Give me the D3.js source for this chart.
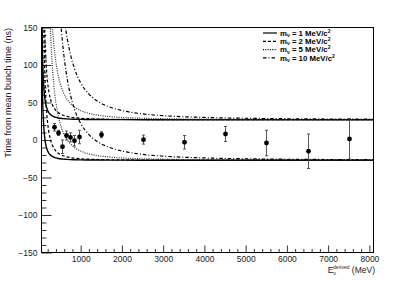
<!DOCTYPE html>
<html><head><meta charset="utf-8">
<script src="https://cdn.jsdelivr.net/npm/d3@7"></script>
<style>
body{margin:0;background:#fff}
svg{display:block;font-family:"Liberation Sans",Arial,sans-serif}
</style>
</head><body><script>
// measured points (bin centre, offset from bunch centre, error)
const energy = [350, 450, 550, 650, 750, 850, 950, 1500, 2500, 3500, 4500, 5500, 6500, 7500];
const timeOffset = [17, 9.5, -9, 6, 3.5, -1, 4, 7, 0.5, -3, 8, -4, -15, 1.5];
const timeError = [5, 3.5, 9, 6, 6, 7, 9, 4, 6, 9, 10, 17, 23, 27];

// expected arrival band for each mass: +/- window, shifted by the delay read at each energy
const massLabels = ["1", "2", "5", "10"];
const windowHalf = 27;
const curveEnergy = [50, 60, 70, 80, 90, 100, 115, 130, 150, 175, 200, 230, 260, 300, 350, 400, 450, 500, 575, 650, 750, 850, 1000, 1200, 1400, 1700, 2000, 2500, 3000, 4000, 5000, 6500, 8100];
const delayM1 = [196.8, 136.7, 100.4, 76.9, 60.7, 49.2, 37.2, 29.1, 21.9, 16.1, 12.3, 9.3, 7.3, 5.5, 4.0, 3.1, 2.4, 2.0, 1.5, 1.2, 0.9, 0.7, 0.5, 0.34, 0.25, 0.17, 0.12, 0.08, 0.05, 0.03, 0.02, 0.01, 0.01];
const delayM2 = [787, 547, 402, 307.5, 243, 196.8, 148.8, 116.4, 87.5, 64.3, 49.2, 37.2, 29.1, 21.9, 16.1, 12.3, 9.7, 7.9, 5.95, 4.66, 3.5, 2.72, 1.97, 1.37, 1.0, 0.68, 0.49, 0.31, 0.22, 0.12, 0.08, 0.05, 0.03];
const delayM5 = [4920, 3417, 2510, 1922, 1519, 1230, 930, 728, 546.7, 401.6, 307.5, 232.5, 182, 136.7, 100.4, 76.9, 60.7, 49.2, 37.2, 29.1, 21.9, 17.0, 12.3, 8.54, 6.28, 4.26, 3.08, 1.97, 1.37, 0.77, 0.49, 0.29, 0.19];
const delayM10 = [19680, 13667, 10041, 7688, 6074, 4920, 3720, 2911, 2187, 1607, 1230, 930, 728, 546.7, 401.6, 307.5, 243, 196.8, 148.8, 116.4, 87.5, 68.1, 49.2, 34.2, 25.1, 17.0, 12.3, 7.87, 5.47, 3.08, 1.97, 1.16, 0.75];
const delays = [delayM1, delayM2, delayM5, delayM10];
const dashes = [null, "3,2", "1,1.3", "3.5,2,1,2"];

const xMajor = [1000, 2000, 3000, 4000, 5000, 6000, 7000, 8000];
const yMajor = [-150, -100, -50, 0, 50, 100, 150];

const W = 415, H = 281;
const svg = d3.select("body").append("svg").attr("width", W).attr("height", H);

const x = d3.scaleLinear().domain([50, 8100]).range([41.5, 373.5]);
const y = d3.scaleLinear().domain([-150, 150]).range([252.5, 27.5]);

svg.append("clipPath").attr("id", "plot")
  .append("rect").attr("x", 41.5).attr("y", 27.5).attr("width", 332).attr("height", 225);

// axes, ticks pointing into the frame
const xMinor = d3.range(200, 8001, 200).filter(v => v % 1000 !== 0);
svg.append("g").attr("transform", "translate(0,252.5)")
  .call(d3.axisBottom(x).tickValues(xMinor).tickSize(-3.5).tickFormat(""))
  .call(g => g.select(".domain").remove());
svg.append("g").attr("transform", "translate(0,252.5)")
  .call(d3.axisBottom(x).tickValues(xMajor).tickSize(-7).tickPadding(3).tickFormat(d3.format("d")))
  .call(g => g.select(".domain").remove())
  .call(g => g.selectAll("text").attr("font-size", 8.5).attr("dy", "0.9em").attr("y", 2).attr("fill", "#222"));

const yMinor = d3.range(-140, 150, 10).filter(v => v % 50 !== 0);
svg.append("g").attr("transform", "translate(41.5,0)")
  .call(d3.axisLeft(y).tickValues(yMinor).tickSize(-5).tickFormat(""))
  .call(g => g.select(".domain").remove());
svg.append("g").attr("transform", "translate(41.5,0)")
  .call(d3.axisLeft(y).tickValues(yMajor).tickSize(-10).tickPadding(4).tickFormat(d3.format("d")))
  .call(g => g.select(".domain").remove())
  .call(g => g.selectAll("text").attr("font-size", 8.5).attr("fill", "#222"));

svg.selectAll(".tick line").attr("stroke", "#333");

// expected-time bands
const line = d3.line().x(d => x(d[0])).y(d => y(d[1])).curve(d3.curveMonotoneX);
const curves = svg.append("g").attr("clip-path", "url(#plot)");
delays.forEach((dl, i) => {
  [windowHalf, -windowHalf].forEach(off => {
    curves.append("path")
      .attr("d", line(curveEnergy.map((e, j) => [e, off + dl[j]])))
      .attr("fill", "none").attr("stroke", i === 2 ? "#333" : "#000")
      .attr("stroke-width", i === 0 ? 1.4 : 1.2)
      .attr("stroke-dasharray", dashes[i]);
  });
});

// data points with error bars
const pts = energy.map((e, i) => ({e, t: timeOffset[i], err: timeError[i]}));
const pg = svg.append("g").attr("clip-path", "url(#plot)");
pg.selectAll("line.err").data(pts).join("line").attr("class", "err")
  .attr("x1", d => Math.round(x(d.e)) + 0.5).attr("x2", d => Math.round(x(d.e)) + 0.5)
  .attr("y1", d => y(d.t - d.err)).attr("y2", d => y(d.t + d.err))
  .attr("stroke", "#444").attr("stroke-width", 0.9);
[-1, 1].forEach(s => {
  pg.selectAll("line.cap" + (s > 0 ? "u" : "d")).data(pts).join("line").attr("class", "cap" + (s > 0 ? "u" : "d"))
    .attr("x1", d => Math.round(x(d.e)) - 1).attr("x2", d => Math.round(x(d.e)) + 2)
    .attr("y1", d => y(d.t + s * d.err)).attr("y2", d => y(d.t + s * d.err))
    .attr("stroke", "#444").attr("stroke-width", 0.9);
});
pg.selectAll("circle").data(pts).join("circle")
  .attr("cx", d => Math.round(x(d.e)) + 0.5).attr("cy", d => y(d.t)).attr("r", 2.4).attr("fill", "#000");

// frame
svg.append("rect").attr("x", 41.5).attr("y", 27.5).attr("width", 332).attr("height", 225)
  .attr("fill", "none").attr("stroke", "#000").attr("stroke-width", 1);

// legend
const lg = svg.append("g").attr("font-size", 7.8).attr("font-weight", "bold");
massLabels.forEach((m, i) => {
  const ly = 33 + i * 8.3;
  lg.append("line").attr("x1", 263).attr("x2", 277).attr("y1", ly).attr("y2", ly)
    .attr("stroke", "#000").attr("stroke-width", 1.2).attr("stroke-dasharray", dashes[i]);
  const t = lg.append("text").attr("x", 280).attr("y", ly + 2.8);
  t.append("tspan").text("m");
  t.append("tspan").attr("font-size", 5).attr("dy", 1.2).text("ν");
  t.append("tspan").attr("dy", -1.2).text(" = " + m + " MeV/c");
  t.append("tspan").attr("font-size", 5).attr("dy", -3).text("2");
});

// axis titles
svg.append("text").attr("transform", "translate(11,28) rotate(-90)")
  .attr("text-anchor", "end").attr("font-size", 9).attr("fill", "#222").text("Time from mean bunch time (ns)");
const xt = svg.append("text").attr("x", 375).attr("y", 273).attr("text-anchor", "end").attr("font-size", 8.5).attr("fill", "#222");
xt.append("tspan").text("E");
xt.append("tspan").attr("font-size", 5.5).attr("dy", 2).text("ν");
xt.append("tspan").attr("font-size", 5).attr("dx", -3).attr("dy", -6.5).text("derived");
xt.append("tspan").attr("dy", 4.5).text(" (MeV)");
</script></body></html>
